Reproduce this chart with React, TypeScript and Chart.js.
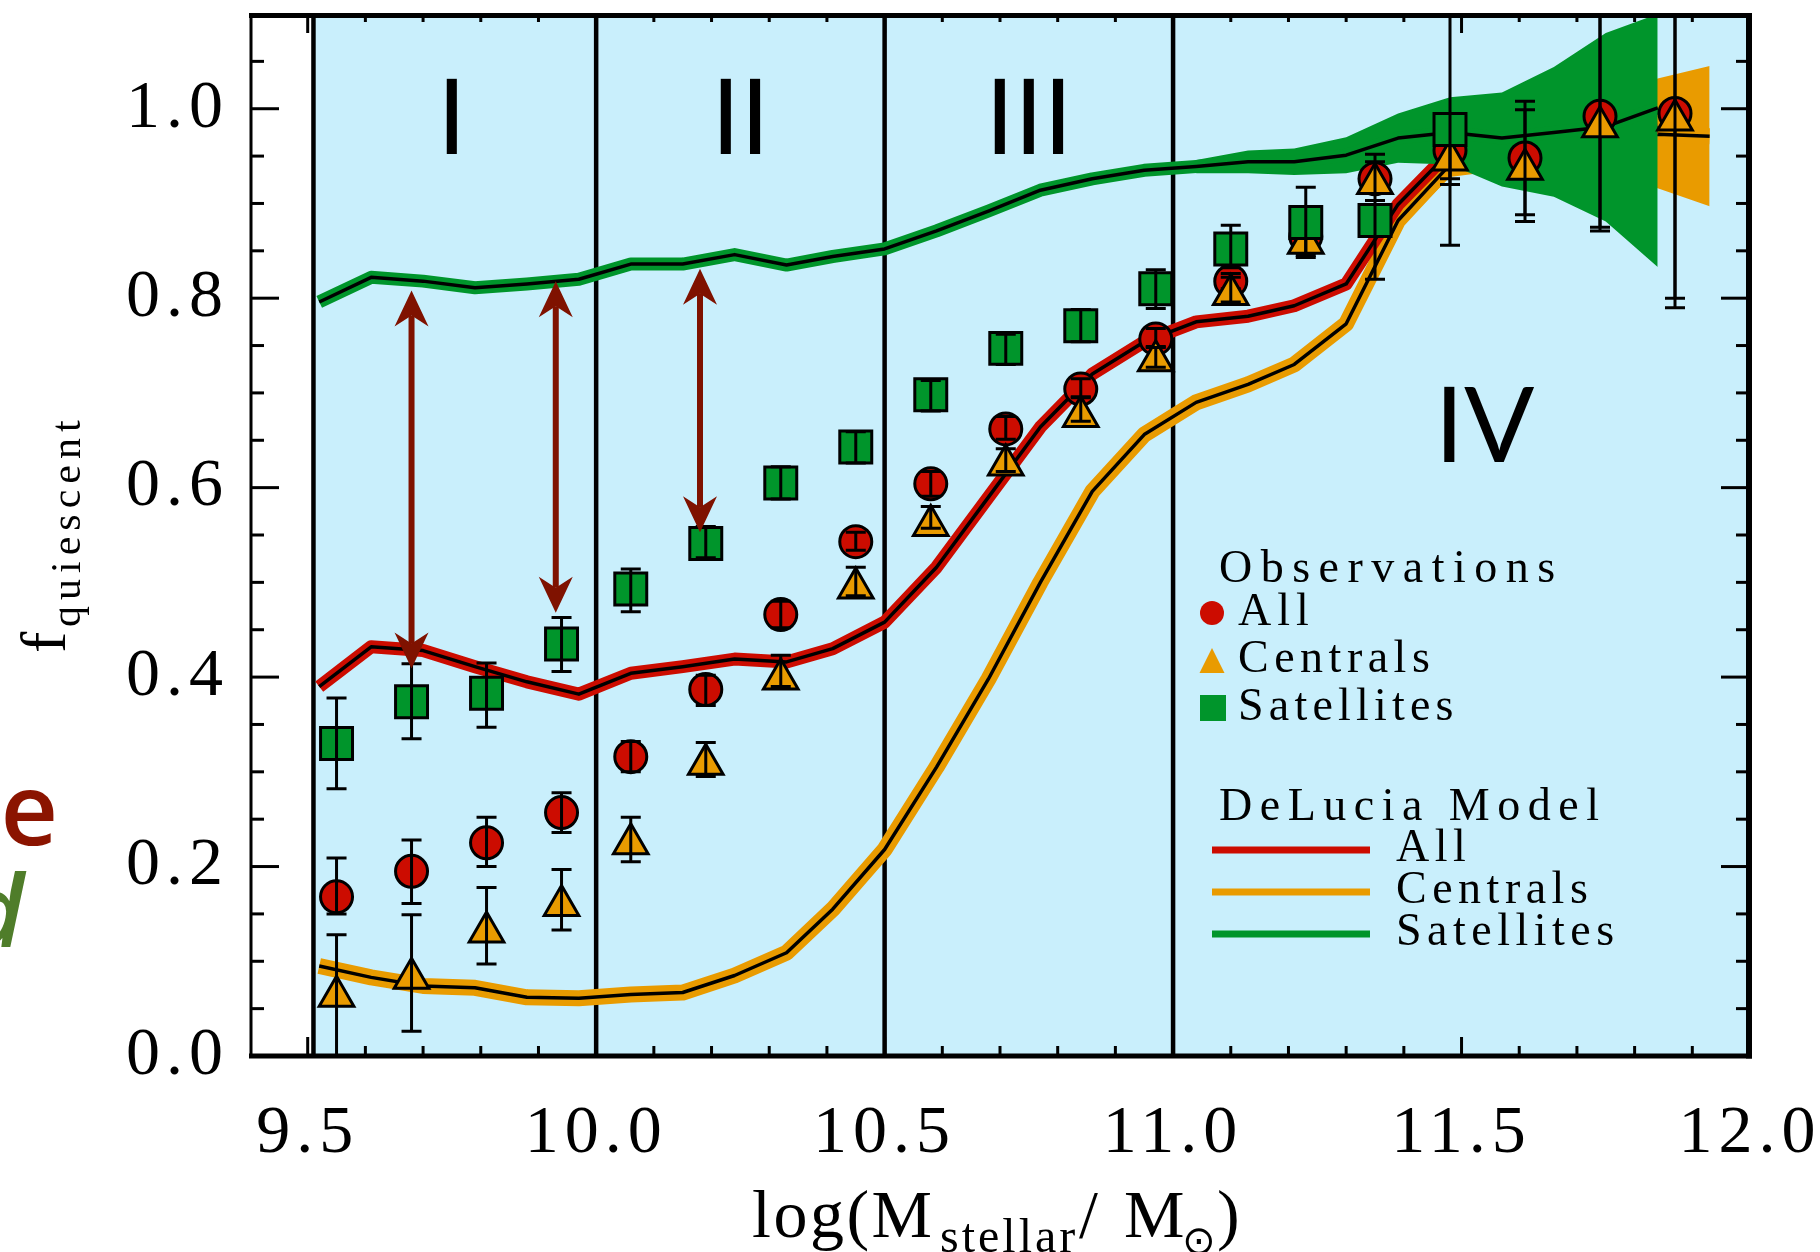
import React, { useEffect, useRef } from 'react';
import { Chart, registerables } from 'chart.js';

Chart.register(...registerables);

const W = 1820;
const H = 1252;

// ---------- axis ticks ----------
const xTicks = [9.5, 10.0, 10.5, 11.0, 11.5, 12.0];
const yTicks = [0.0, 0.2, 0.4, 0.6, 0.8, 1.0];
const xMajorMarks = [9.5, 10.0, 10.5, 11.0, 11.5];
const xMinorMarks = [9.6, 9.7, 9.8, 9.9, 10.1, 10.2, 10.3, 10.4, 10.6, 10.7, 10.8, 10.9, 11.1, 11.2, 11.3, 11.4, 11.6, 11.7, 11.8, 11.9];
const yMinorMarks = [0.05, 0.10, 0.15, 0.25, 0.30, 0.35, 0.45, 0.50, 0.55, 0.65, 0.70, 0.75, 0.85, 0.90, 0.95, 1.05];

// ---------- regions ----------
const regionEdges = [9.51, 10.0, 10.5, 11.0];
const regionLabels = ['I', 'II', 'III', 'IV'];
const regionLabelX = [9.75, 10.25, 10.75, 11.54];
const regionLabelY = [0.9525, 0.9525, 0.9525, 0.6266];

// ---------- DeLucia model ----------
const modelMass = [9.52, 9.61, 9.70, 9.79, 9.88, 9.97, 10.06, 10.15, 10.24, 10.33, 10.41, 10.50, 10.59, 10.68, 10.77, 10.86, 10.95, 11.04, 11.13, 11.21, 11.30, 11.39, 11.48, 11.57, 11.66, 11.75, 11.84, 11.93];
const modelAll = [0.390, 0.432, 0.428, 0.411, 0.395, 0.382, 0.404, 0.411, 0.419, 0.416, 0.430, 0.458, 0.516, 0.590, 0.664, 0.720, 0.754, 0.775, 0.781, 0.792, 0.815, 0.899, 0.955, 0.965, 0.970, 0.975, 0.980];
const modelCentrals = [0.095, 0.083, 0.074, 0.072, 0.062, 0.061, 0.065, 0.067, 0.085, 0.109, 0.155, 0.218, 0.305, 0.398, 0.500, 0.596, 0.656, 0.690, 0.709, 0.730, 0.773, 0.882, 0.941, 0.955, 0.962, 0.968, 0.973, 0.971];
const modelSatellites = [0.796, 0.822, 0.818, 0.811, 0.815, 0.820, 0.836, 0.836, 0.846, 0.835, 0.844, 0.852, 0.871, 0.892, 0.914, 0.926, 0.935, 0.939, 0.944, 0.944, 0.951, 0.969, 0.975, 0.969, 0.975, 0.981, 1.001];

const satBandMass = [11.04, 11.13, 11.21, 11.30, 11.39, 11.48, 11.57, 11.66, 11.75, 11.84];
const satBandHi = [0.946, 0.956, 0.958, 0.970, 0.995, 1.012, 1.017, 1.044, 1.080, 1.100];
const satBandLo = [0.932, 0.932, 0.930, 0.932, 0.943, 0.941, 0.918, 0.907, 0.881, 0.833];
const cenBandMass = [11.39, 11.48, 11.57, 11.66, 11.75, 11.84, 11.93];
const cenBandHi = [0.892, 0.955, 0.985, 1.000, 1.015, 1.032, 1.045];
const cenBandLo = [0.872, 0.928, 0.935, 0.930, 0.925, 0.916, 0.897];

// ---------- observations ----------
const obsMass = [9.55, 9.68, 9.81, 9.94, 10.06, 10.19, 10.32, 10.45, 10.58, 10.71, 10.84, 10.97, 11.10, 11.23, 11.35, 11.48, 11.61, 11.74, 11.87];
const obsAll = [0.168, 0.195, 0.225, 0.257, 0.316, 0.387, 0.466, 0.543, 0.604, 0.662, 0.704, 0.757, 0.818, 0.865, 0.926, 0.956, 0.948, 0.992, 0.995];
const obsAllLo = [0.150, 0.161, 0.200, 0.236, 0.300, 0.370, 0.452, 0.534, 0.591, 0.651, 0.696, 0.749, 0.810, 0.855, 0.912, 0.920, 0.881, 0.871, 0.790];
const obsAllHi = [0.209, 0.228, 0.252, 0.278, 0.332, 0.402, 0.480, 0.553, 0.617, 0.675, 0.715, 0.768, 0.826, 0.875, 0.952, 0.990, 1.008, 1.150, 1.200];
const obsCentrals = [0.063, 0.082, 0.131, 0.159, 0.224, 0.308, 0.398, 0.494, 0.560, 0.624, 0.675, 0.734, 0.804, 0.858, 0.921, 0.946, 0.936, 0.981, 0.988];
const obsCentralsLo = [-0.020, 0.026, 0.097, 0.133, 0.205, 0.295, 0.390, 0.486, 0.557, 0.617, 0.670, 0.727, 0.796, 0.843, 0.903, 0.926, 0.888, 0.875, 0.800];
const obsCentralsHi = [0.128, 0.149, 0.178, 0.197, 0.252, 0.331, 0.423, 0.516, 0.580, 0.641, 0.695, 0.748, 0.822, 0.870, 0.944, 0.980, 0.999, 1.150, 1.200];
const satMass = [9.55, 9.68, 9.81, 9.94, 10.06, 10.19, 10.32, 10.45, 10.58, 10.71, 10.84, 10.97, 11.10, 11.23, 11.35, 11.48];
const obsSatellites = [0.330, 0.374, 0.383, 0.435, 0.493, 0.541, 0.605, 0.643, 0.698, 0.747, 0.771, 0.810, 0.852, 0.880, 0.882, 0.978];
const obsSatellitesLo = [0.282, 0.335, 0.347, 0.406, 0.469, 0.526, 0.588, 0.626, 0.681, 0.730, 0.754, 0.789, 0.832, 0.845, 0.820, 0.856];
const obsSatellitesHi = [0.378, 0.414, 0.415, 0.463, 0.514, 0.559, 0.622, 0.659, 0.713, 0.762, 0.788, 0.830, 0.877, 0.917, 0.903, 1.200];

// ---------- arrows ----------
const arrowMass = [9.68, 9.93, 10.18];
const arrowTop = [0.808, 0.818, 0.831];
const arrowBottom = [0.409, 0.468, 0.553];

// ---------- colours ----------
const BLUE = '#c9effc';
const RED = '#cc0c00';
const ORANGE = '#e99b00';
const GREEN = '#00952b';
const ARROW = '#7f1200';
const SERIF = '"Liberation Serif", "DejaVu Serif", serif';

function pts(xs: number[], ys: number[]) {
  return ys.map((y, i) => ({ x: xs[i], y }));
}

function text(ctx: any, s: string, x: number, y: number, font: string, color = '#000', align = 'left', ls = 0) {
  ctx.font = font;
  ctx.fillStyle = color;
  ctx.textAlign = align;
  ctx.textBaseline = 'alphabetic';
  ctx.letterSpacing = ls + 'px';
  ctx.fillText(s, x, y);
  ctx.letterSpacing = '0px';
}

const customPlugin = {
  id: 'customDecor',
  beforeDraw(chart: any) {
    const { ctx, chartArea: a, scales } = chart;
    ctx.save();
    ctx.fillStyle = '#ffffff';
    ctx.fillRect(0, 0, chart.width, chart.height);
    const x0 = scales.x.getPixelForValue(regionEdges[0]);
    ctx.fillStyle = BLUE;
    ctx.fillRect(x0, a.top, a.right - x0, a.bottom - a.top);
    ctx.restore();
    ctx.letterSpacing = '6px';
  },
  beforeDatasetsDraw(chart: any) {
    const { ctx, chartArea: a, scales } = chart;
    ctx.letterSpacing = '0px';
    ctx.save();
    ctx.strokeStyle = '#000';
    ctx.lineWidth = 4.5;
    regionEdges.forEach((v) => {
      const px = scales.x.getPixelForValue(v);
      ctx.beginPath();
      ctx.moveTo(px, a.top);
      ctx.lineTo(px, a.bottom);
      ctx.stroke();
    });
    regionLabels.forEach((s, i) => {
      text(ctx, s, scales.x.getPixelForValue(regionLabelX[i]), scales.y.getPixelForValue(regionLabelY[i]), '104px Lato', '#000', 'center', 0);
    });
    ctx.restore();
  },
  afterDatasetDraw(chart: any, args: any) {
    const ds = chart.data.datasets[args.index];
    if (!ds.errLo) return;
    const { ctx, chartArea: a, scales } = chart;
    ctx.save();
    ctx.beginPath();
    ctx.rect(a.left, a.top, a.right - a.left, a.bottom - a.top);
    ctx.clip();
    ctx.strokeStyle = '#000';
    ctx.lineWidth = 3;
    ctx.lineCap = 'butt';
    ds.data.forEach((p: any, i: number) => {
      const px = scales.x.getPixelForValue(p.x);
      const lo = scales.y.getPixelForValue(ds.errLo[i]);
      const hi = scales.y.getPixelForValue(ds.errHi[i]);
      ctx.beginPath();
      ctx.moveTo(px, lo);
      ctx.lineTo(px, hi);
      ctx.moveTo(px - 10, lo);
      ctx.lineTo(px + 10, lo);
      ctx.moveTo(px - 10, hi);
      ctx.lineTo(px + 10, hi);
      ctx.stroke();
    });
    ctx.restore();
  },
  afterDatasetsDraw(chart: any) {
    const { ctx, scales } = chart;
    ctx.save();
    ctx.fillStyle = ARROW;
    ctx.strokeStyle = ARROW;
    ctx.lineWidth = 6;
    const L = 36, N = 25, HW = 17;
    arrowMass.forEach((m, i) => {
      const px = scales.x.getPixelForValue(m);
      const t = scales.y.getPixelForValue(arrowTop[i]);
      const b = scales.y.getPixelForValue(arrowBottom[i]);
      ctx.beginPath();
      ctx.moveTo(px, t + N);
      ctx.lineTo(px, b - N);
      ctx.stroke();
      ctx.beginPath();
      ctx.moveTo(px, t);
      ctx.lineTo(px - HW, t + L);
      ctx.lineTo(px, t + N);
      ctx.lineTo(px + HW, t + L);
      ctx.closePath();
      ctx.fill();
      ctx.beginPath();
      ctx.moveTo(px, b);
      ctx.lineTo(px - HW, b - L);
      ctx.lineTo(px, b - N);
      ctx.lineTo(px + HW, b - L);
      ctx.closePath();
      ctx.fill();
    });
    ctx.restore();
  },
  afterDraw(chart: any) {
    const { ctx, chartArea: a, scales } = chart;
    const xs = scales.x, ys = scales.y;
    ctx.save();
    ctx.letterSpacing = '0px';
    // ticks
    ctx.strokeStyle = '#000';
    ctx.lineWidth = 3;
    const hl = (x1: number, y1: number, x2: number, y2: number) => {
      ctx.beginPath(); ctx.moveTo(x1, y1); ctx.lineTo(x2, y2); ctx.stroke();
    };
    yTicks.forEach((v) => {
      const py = ys.getPixelForValue(v);
      hl(a.left, py, a.left + 29, py);
      hl(a.right, py, a.right - 29, py);
    });
    yMinorMarks.forEach((v) => {
      const py = ys.getPixelForValue(v);
      hl(a.left, py, a.left + 14, py);
      hl(a.right, py, a.right - 14, py);
    });
    xMajorMarks.forEach((v) => {
      const px = xs.getPixelForValue(v);
      hl(px, a.bottom, px, a.bottom - 19);
      hl(px, a.top, px, a.top + 19);
    });
    xMinorMarks.forEach((v) => {
      const px = xs.getPixelForValue(v);
      hl(px, a.bottom, px, a.bottom - 10);
      hl(px, a.top, px, a.top + 8);
    });
    // frame
    ctx.lineWidth = 5;
    hl(a.left - 1, a.top + 1.5, a.right + 2, a.top + 1.5);
    hl(a.left - 1, a.bottom, a.right + 2, a.bottom);
    ctx.lineWidth = 3;
    hl(a.left + 1, a.top, a.left + 1, a.bottom + 2);
    ctx.lineWidth = 6;
    hl(a.right - 1, a.top - 1, a.right - 1, a.bottom + 2.5);

    // legend
    const LF = '46px ' + SERIF;
    text(ctx, 'Observations', 1219, 582, LF, '#000', 'left', 8.5);
    ctx.fillStyle = RED;
    ctx.beginPath(); ctx.arc(1212, 613, 12, 0, Math.PI * 2); ctx.fill();
    text(ctx, 'All', 1238, 625, LF, '#000', 'left', 6);
    ctx.fillStyle = ORANGE;
    ctx.beginPath(); ctx.moveTo(1212, 648); ctx.lineTo(1199.5, 673); ctx.lineTo(1224.5, 673); ctx.closePath(); ctx.fill();
    text(ctx, 'Centrals', 1238, 672, LF, '#000', 'left', 5.5);
    ctx.fillStyle = GREEN;
    ctx.fillRect(1200, 695, 26, 26);
    text(ctx, 'Satellites', 1238, 720, LF, '#000', 'left', 5.2);
    text(ctx, 'DeLucia Model', 1219, 820, LF, '#000', 'left', 7.5);
    ctx.lineWidth = 7;
    ctx.lineCap = 'butt';
    [[RED, 850, 'All', 861], [ORANGE, 892, 'Centrals', 903], [GREEN, 934, 'Satellites', 945]].forEach((r: any) => {
      ctx.strokeStyle = r[0];
      hl(1212, r[1], 1370, r[1]);
      text(ctx, r[2], 1396, r[3], LF, '#000', 'left', 5.5);
    });

    // y title
    ctx.save();
    ctx.translate(65, 653);
    ctx.rotate(-Math.PI / 2);
    text(ctx, 'f', 0, 0, '64px ' + SERIF, '#000', 'left', 0);
    text(ctx, 'quiescent', 26, 15, '42px ' + SERIF, '#000', 'left', 6);
    ctx.restore();

    // x title
    text(ctx, 'log(M', 752, 1237, '68px ' + SERIF, '#000', 'left', 2.5);
    text(ctx, 'stellar', 940, 1252, '48px ' + SERIF, '#000', 'left', 3);
    text(ctx, '/', 1079, 1237, '68px ' + SERIF, '#000', 'left', 0);
    text(ctx, 'M', 1124, 1237, '68px ' + SERIF, '#000', 'left', 0);
    text(ctx, '\u2299', 1182, 1254, '40px "DejaVu Sans"', '#000', 'left', 0);
    text(ctx, ')', 1217, 1237, '68px ' + SERIF, '#000', 'left', 0);

    // cropped neighbouring text fragments at the left edge
    text(ctx, 'pe', 58, 845, '600 100px "Open Sans"', '#8b1400', 'right', 0);
    text(ctx, 'd', 24, 947, 'italic 600 100px "Open Sans"', '#4f7d2a', 'right', 0);
    ctx.restore();
  },
};

export default function App() {
  const ref = useRef<HTMLCanvasElement>(null);
  useEffect(() => {
    const line = (data: any[], color: string, width: number, order: number) => ({
      type: 'line',
      data,
      borderColor: color,
      backgroundColor: color,
      borderWidth: width,
      pointRadius: 0,
      tension: 0,
      borderJoinStyle: 'round',
      borderCapStyle: 'butt',
      fill: false,
      clip: 0,
      order,
    });
    const band = (data: any[], color: string, order: number, fill: any) => ({
      type: 'line',
      data,
      borderColor: 'rgba(0,0,0,0)',
      backgroundColor: color,
      borderWidth: 0,
      pointRadius: 0,
      tension: 0,
      fill,
      clip: 0,
      order,
    });
    const scatter = (data: any[], color: string, style: string, radius: number, order: number, lo: number[], hi: number[]) => ({
      type: 'scatter',
      data,
      pointStyle: style,
      pointRadius: radius,
      pointBackgroundColor: color,
      pointBorderColor: '#000',
      pointBorderWidth: 3,
      showLine: false,
      clip: 0,
      order,
      errLo: lo,
      errHi: hi,
    });

    const datasets: any[] = [
      band(pts(cenBandMass, cenBandHi), ORANGE, 30, '+1'),
      band(pts(cenBandMass, cenBandLo), ORANGE, 29, false),
      line(pts(modelMass, modelCentrals), ORANGE, 16, 28),
      line(pts(modelMass, modelCentrals), '#000', 3.5, 27),
      line(pts(modelMass, modelAll), RED, 13, 26),
      line(pts(modelMass, modelAll), '#000', 3.5, 25),
      band(pts(satBandMass, satBandHi), GREEN, 24, '+1'),
      band(pts(satBandMass, satBandLo), GREEN, 23, false),
      line(pts(modelMass, modelSatellites), GREEN, 13, 22),
      line(pts(modelMass, modelSatellites), '#000', 3.5, 21),
      scatter(pts(obsMass, obsAll), RED, 'circle', 16, 3, obsAllLo, obsAllHi),
      scatter(pts(obsMass, obsCentrals), ORANGE, 'triangle', 20, 2, obsCentralsLo, obsCentralsHi),
      scatter(pts(satMass, obsSatellites), GREEN, 'rect', 22.6, 1, obsSatellitesLo, obsSatellitesHi),
    ];

    const tickFont = { family: SERIF, size: 68 };
    const chart = new Chart(ref.current as HTMLCanvasElement, {
      type: 'scatter',
      data: { datasets },
      options: {
        animation: false,
        responsive: false,
        maintainAspectRatio: false,
        devicePixelRatio: 1,
        events: [],
        layout: { autoPadding: false, padding: { left: 0, top: 14, right: 70, bottom: 0 } },
        plugins: { legend: { display: false }, tooltip: { enabled: false } },
        scales: {
          x: {
            type: 'linear',
            min: 9.4,
            max: 12.0,
            grid: { display: false, drawTicks: false },
            border: { display: false },
            afterBuildTicks: (s: any) => { s.ticks = xTicks.map((v) => ({ value: v })); },
            afterFit: (s: any) => { s.height = 196; s.paddingLeft = 0; s.paddingRight = 0; s.paddingTop = 0; s.paddingBottom = 0; },
            ticks: {
              font: tickFont,
              color: '#000',
              padding: 37,
              maxRotation: 0,
              minRotation: 0,
              autoSkip: false,
              callback: (v: any) => Number(v).toFixed(1),
            },
          },
          y: {
            type: 'linear',
            min: 0,
            max: 1.1,
            grid: { display: false, drawTicks: false },
            border: { display: false },
            afterBuildTicks: (s: any) => { s.ticks = yTicks.map((v) => ({ value: v })); },
            afterFit: (s: any) => { s.width = 250; s.paddingLeft = 0; s.paddingRight = 0; s.paddingTop = 0; s.paddingBottom = 0; },
            ticks: {
              font: tickFont,
              color: '#000',
              padding: 21,
              autoSkip: false,
              callback: (v: any) => Number(v).toFixed(1),
            },
          },
        },
      } as any,
      plugins: [customPlugin as any],
    });
    return () => chart.destroy();
  }, []);

  return (
    <div style={{ position: 'absolute', left: 0, top: 0, width: W, height: H, background: '#fff' }}>
      <canvas ref={ref} width={W} height={H} style={{ display: 'block', width: W, height: H }} />
    </div>
  );
}
